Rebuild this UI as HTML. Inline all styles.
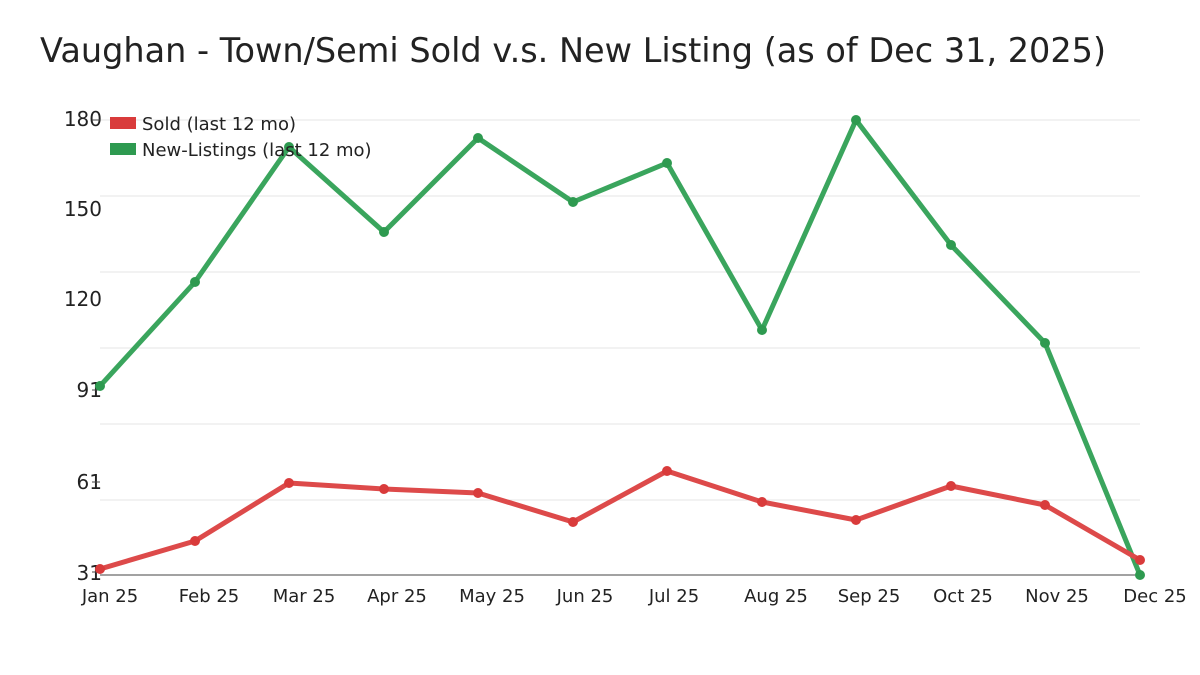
<!DOCTYPE html>
<html><head><meta charset="utf-8"><style>
body{margin:0;background:#fff;}
svg{display:block;font-family:"DejaVu Sans","Liberation Sans",sans-serif;}
</style></head><body>
<svg width="1200" height="675" viewBox="0 0 1200 675">
<text x="40" y="62" font-size="33.5" fill="#222">Vaughan - Town/Semi Sold v.s. New Listing (as of Dec 31, 2025)</text>
<g stroke="#e6e6e6" stroke-width="1">
<line x1="100" y1="120" x2="1140" y2="120"/>
<line x1="100" y1="196" x2="1140" y2="196"/>
<line x1="100" y1="272" x2="1140" y2="272"/>
<line x1="100" y1="348" x2="1140" y2="348"/>
<line x1="100" y1="424" x2="1140" y2="424"/>
<line x1="100" y1="500" x2="1140" y2="500"/>
</g>
<line x1="100" y1="575" x2="1140" y2="575" stroke="#444" stroke-width="1"/>
<g font-size="20" fill="#222" text-anchor="end">
<text x="102" y="126">180</text>
<text x="102" y="216">150</text>
<text x="102" y="306">120</text>
<text x="102" y="397">91</text>
<text x="102" y="489">61</text>
<text x="102" y="580">31</text>
</g>
<g stroke="#444"><line x1="92" y1="120" x2="100" y2="120"/><line x1="92" y1="390" x2="100" y2="390"/><line x1="92" y1="482" x2="100" y2="482"/><line x1="92" y1="572" x2="100" y2="572"/></g>
<g font-size="18" fill="#222" text-anchor="middle">
<text x="110" y="602">Jan 25</text><text x="209" y="602">Feb 25</text><text x="304" y="602">Mar 25</text>
<text x="397" y="602">Apr 25</text><text x="492" y="602">May 25</text><text x="585" y="602">Jun 25</text>
<text x="674" y="602">Jul 25</text><text x="776" y="602">Aug 25</text><text x="869" y="602">Sep 25</text>
<text x="963" y="602">Oct 25</text><text x="1057" y="602">Nov 25</text><text x="1155" y="602">Dec 25</text>
</g>
<polyline fill="none" stroke="#3aa55d" stroke-width="5" stroke-linejoin="round" points="100,386 195,282 289,147 384,232 478,138 573,202 667,163 762,330 856,120 951,245 1045,343 1140,575"/>
<g fill="#2e9a50"><circle cx="100" cy="386" r="5"/><circle cx="195" cy="282" r="5"/><circle cx="289" cy="147" r="5"/><circle cx="384" cy="232" r="5"/><circle cx="478" cy="138" r="5"/><circle cx="573" cy="202" r="5"/><circle cx="667" cy="163" r="5"/><circle cx="762" cy="330" r="5"/><circle cx="856" cy="120" r="5"/><circle cx="951" cy="245" r="5"/><circle cx="1045" cy="343" r="5"/><circle cx="1140" cy="575" r="5"/></g>
<polyline fill="none" stroke="#dd4a4a" stroke-width="5" stroke-linejoin="round" points="100,569 195,541 289,483 384,489 478,493 573,522 667,471 762,502 856,520 951,486 1045,505 1140,560"/>
<g fill="#d93b3b"><circle cx="100" cy="569" r="5"/><circle cx="195" cy="541" r="5"/><circle cx="289" cy="483" r="5"/><circle cx="384" cy="489" r="5"/><circle cx="478" cy="493" r="5"/><circle cx="573" cy="522" r="5"/><circle cx="667" cy="471" r="5"/><circle cx="762" cy="502" r="5"/><circle cx="856" cy="520" r="5"/><circle cx="951" cy="486" r="5"/><circle cx="1045" cy="505" r="5"/><circle cx="1140" cy="560" r="5"/></g>
<rect x="110" y="117" width="26" height="12" fill="#d93b3b"/>
<text x="142" y="130" font-size="18" fill="#222">Sold (last 12 mo)</text>
<rect x="110" y="143" width="26" height="12" fill="#2e9a50"/>
<text x="142" y="156" font-size="18" fill="#222">New-Listings (last 12 mo)</text>
</svg>
</body></html>
